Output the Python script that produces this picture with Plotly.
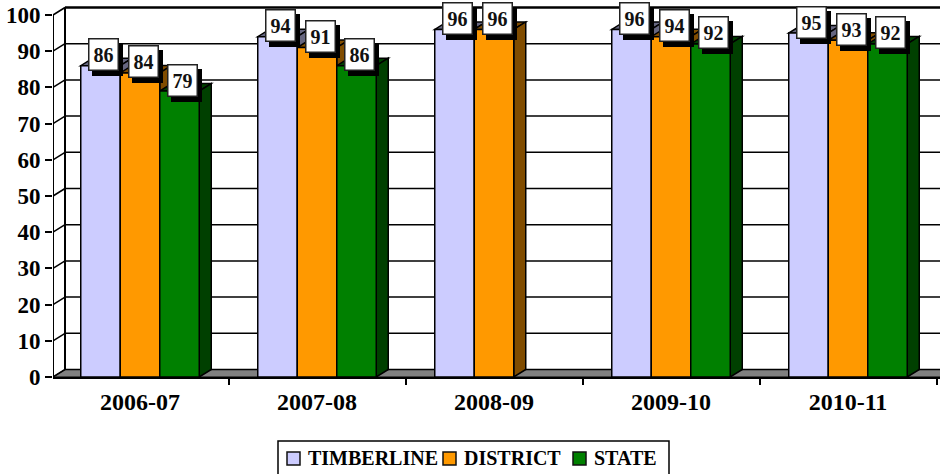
import plotly.graph_objects as go

categories = ["2006-07", "2007-08", "2008-09", "2009-10", "2010-11"]
timberline = [86, 94, 96, 96, 95]
district = [84, 91, 96, 94, 93]
state = [79, 86, None, 92, 92]
series_names = ["TIMBERLINE", "DISTRICT", "STATE"]
y_ticks = [0, 10, 20, 30, 40, 50, 60, 70, 80, 90, 100]

series_values = [timberline, district, state]
front_colors = ["#CCCCFF", "#FF9900", "#008000"]
dark_colors = ["#666680", "#804C00", "#004000"]
FONT = "Liberation Serif"

W, H = 940, 474
L, T, B = 53, 6, 97
PX_X = 177.0
PX_Y = 3.62
x_lo = (53 - 140) / PX_X
x_hi = (940 - 140) / PX_X
y_hi = (H - B - T) / PX_Y
dx = 12 / PX_X
dy = 7.5 / PX_Y
bar_w = 39.5 / PX_X
LINE = dict(color="black", width=1.5)

shapes = []


def poly(points, fill, line=LINE):
    path = "M" + "L".join(f"{a},{b}" for a, b in points) + "Z"
    shapes.append(dict(type="path", path=path, xref="x", yref="y", fillcolor=fill,
                       line=line, layer="below"))


def seg(x0, y0, x1, y1, width=1.5):
    shapes.append(dict(type="line", x0=x0, y0=y0, x1=x1, y1=y1, xref="x", yref="y",
                       line=dict(color="black", width=width), layer="below"))


def px(x):
    return (x - L) / (W - L)


def py(y):
    return (H - B - y) / (H - B - T)


# floor
poly([(x_lo, 0), (x_lo + dx, dy), (x_hi + 0.1, dy), (x_hi + 0.1, 0)], "#808080", dict(color="black", width=1))
# back wall gridlines and side wall diagonals
for t in y_ticks:
    seg(x_lo + dx, t + dy, x_hi + 0.1, t + dy, 2.5 if t == 100 else 1.5)
    seg(x_lo, t, x_lo + dx, t + dy, 1.5)
seg(x_lo + dx, dy, x_lo + dx, 100 + dy, 2)

# 3D tops and sides, left to right
for i in range(len(categories)):
    for j, vals in enumerate(series_values):
        v = vals[i]
        if v is None:
            continue
        a = i - 1.5 * bar_w + j * bar_w
        b = a + bar_w
        poly([(a, v), (b, v), (b + dx, v + dy), (a + dx, v + dy)], dark_colors[j])
        poly([(b, 0), (b, v), (b + dx, v + dy), (b + dx, dy)], dark_colors[j])

fig = go.Figure()
for j, name in enumerate(series_names):
    fig.add_trace(go.Bar(
        x=list(range(len(categories))), y=series_values[j], name=name,
        width=bar_w, offset=-1.5 * bar_w + j * bar_w,
        marker=dict(color=front_colors[j], line=dict(color="black", width=1.5)),
        hoverinfo="skip",
    ))

# front vertical axis line
fig.add_trace(go.Scatter(x=[x_lo, x_lo], y=[0, 100], mode="lines", cliponaxis=False,
                         line=dict(color="black", width=2), showlegend=False, hoverinfo="skip"))

annotations = []
for i in range(len(categories)):
    for j, vals in enumerate(series_values):
        v = vals[i]
        if v is None:
            continue
        cx = i - bar_w + j * bar_w
        base = dict(x=cx, y=v, xref="x", yref="y", showarrow=False, width=26, height=28,
                    align="center", valign="middle", borderpad=1)
        annotations.append(dict(base, text=" ", bgcolor="black", xshift=7, yshift=6,
                                bordercolor="black", borderwidth=1.5,
                                font=dict(family=FONT, size=19)))
        annotations.append(dict(base, text=f"<b>{v}</b>", bgcolor="white", xshift=3, yshift=11,
                                bordercolor="#222222", borderwidth=1.5,
                                font=dict(family=FONT, size=20, color="#111111")))

# legend box drawn to the reference's exact spacing
shapes.append(dict(type="rect", xref="paper", yref="paper", x0=px(278), x1=px(669), y0=py(480), y1=py(441),
                   fillcolor="white", line=dict(color="black", width=1.5), layer="above"))
for name, color, sw_x, txt_x in zip(series_names, front_colors, [287, 443, 573], [307, 463, 593]):
    shapes.append(dict(type="rect", xref="paper", yref="paper", x0=px(sw_x), x1=px(sw_x + 13),
                       y0=py(465), y1=py(452), fillcolor=color,
                       line=dict(color="#111111", width=1.5), layer="above"))
    annotations.append(dict(x=px(txt_x), y=py(458), xref="paper", yref="paper", xanchor="left",
                            yanchor="middle", showarrow=False, text=f"<b>{name}</b>", borderpad=0,
                            font=dict(family=FONT, size=20, color="black")))

fig.update_layout(
    width=W, height=H,
    margin=dict(l=L, r=0, t=T, b=B, pad=0, autoexpand=False),
    paper_bgcolor="white", plot_bgcolor="white",
    barmode="overlay",
    font=dict(family=FONT, color="black"),
    shapes=shapes,
    annotations=annotations,
    showlegend=False,
    xaxis=dict(range=[x_lo, x_hi], tickmode="array", tickvals=list(range(len(categories))),
               ticktext=[f"<b>{c}</b>" for c in categories], ticks="", showgrid=False,
               zeroline=False, showline=True, linecolor="black", linewidth=2,
               tickfont=dict(family=FONT, size=24, color="black"), ticklabelstandoff=2,
               minor=dict(ticks="outside", tick0=-0.5, dtick=1, ticklen=6, tickwidth=1.5,
                          tickcolor="black", showgrid=False)),
    yaxis=dict(range=[0, y_hi], tickmode="array", tickvals=y_ticks,
               ticktext=[f"<b>{t}</b>" for t in y_ticks], ticks="outside", ticklen=7,
               tickwidth=1.5, tickcolor="black", showgrid=False, zeroline=False, showline=False,
               tickfont=dict(family=FONT, size=23, color="black")),
)

fig.write_html("out.html", config=dict(displayModeBar=False),
               post_script="document.body.style.margin='0';")
